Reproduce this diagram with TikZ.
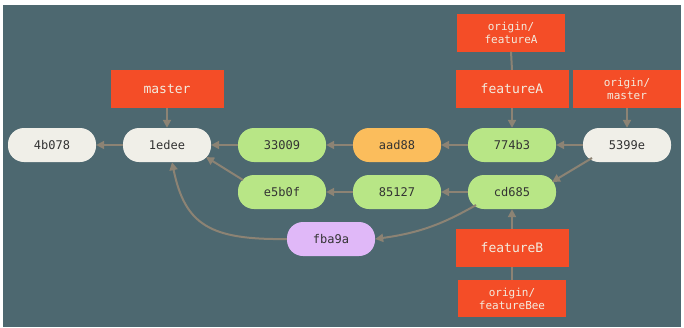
\documentclass[tikz,border=0pt]{standalone}
\usepackage{fontspec}
\newfontfamily\monof{DejaVu Sans Mono}
\usetikzlibrary{arrows.meta,calc}
\definecolor{bgc}{HTML}{4D6870}
\definecolor{redc}{HTML}{F44D27}
\definecolor{greyc}{HTML}{F0EFE8}
\definecolor{greenc}{HTML}{B8E686}
\definecolor{orangec}{HTML}{FBBD5C}
\definecolor{purplec}{HTML}{E0B8F8}
\definecolor{arrc}{HTML}{8C8374}
\definecolor{labtext}{HTML}{F3ECDF}
\definecolor{comtext}{HTML}{333333}
\tikzset{
  commit/.style={rectangle, rounded corners=16pt, minimum width=88pt, minimum height=34pt, inner sep=0pt, text=comtext, font=\monof\fontsize{12}{14}\selectfont},
  branch/.style={rectangle, fill=redc, minimum width=113pt, minimum height=38pt, inner sep=0pt, text=labtext, font=\monof\fontsize{13}{15}\selectfont},
  rbranch/.style={rectangle, fill=redc, minimum width=108pt, minimum height=38pt, inner sep=0pt, text=labtext, align=center, font=\monof\fontsize{11}{13}\selectfont},
  arr/.style={draw=arrc, line width=2pt, -{Triangle[length=8pt,width=8pt]}},
  link/.style={draw=arrc, line width=2pt}
}
\begin{document}
\begin{tikzpicture}[x=1pt,y=-1pt]
\fill[white] (0,0) rectangle (684,327);
\fill[bgc] (3,5) rectangle (681,327);
\useasboundingbox (0,0) rectangle (684,327);
% commits
\node[commit, fill=greyc] (c4b078) at (52,145) {4b078};
\node[commit, fill=greyc] (c1edee) at (167,145) {1edee};
\node[commit, fill=greenc] (c33009) at (282,145) {33009};
\node[commit, fill=orangec] (caad88) at (397,145) {aad88};
\node[commit, fill=greenc] (c774b3) at (512,145) {774b3};
\node[commit, fill=greyc] (c5399e) at (627,145) {5399e};
\node[commit, fill=greenc] (ce5b0f) at (282,192) {e5b0f};
\node[commit, fill=greenc] (c85127) at (397,192) {85127};
\node[commit, fill=greenc] (ccd685) at (512,192) {cd685};
\node[commit, fill=purplec] (cfba9a) at (331,239) {fba9a};
% branches
\node[branch] (master) at (167,89) {master};
\node[branch] (featureA) at (512,89) {featureA};
\node[rbranch] (ofeatureA) at (511,32.5) {origin/\\featureA};
\node[rbranch] (omaster) at (627,89) {origin/\\master};
\node[branch] (featureB) at (512,248) {featureB};
\node[rbranch, minimum height=37pt] (ofeatureBee) at (512,298.5) {origin/\\featureBee};
% connectors
\draw[arr] (c1edee.west) -- (c4b078.east);
\draw[arr] (c33009.west) -- (c1edee.east);
\draw[arr] (caad88.west) -- (c33009.east);
\draw[arr] (c774b3.west) -- (caad88.east);
\draw[arr] (c5399e.west) -- (c774b3.east);
\draw[arr] (c85127.west) -- (ce5b0f.east);
\draw[arr] (ccd685.west) -- (c85127.east);
\draw[arr] ($(ce5b0f.center)+(-39,-12)$) -- ($(c1edee.center)+(39,12)$);
\draw[arr] ($(c5399e.center)+(-35,13)$) -- ($(ccd685.center)+(40,-10)$);
\draw[arr] ($(ccd685.center)+(-36,13)$) to[out=-150, in=8] (cfba9a.east);
\draw[arr] (cfba9a.west) .. controls (210,240) and (185,225) .. ($(c1edee.south)+(5,0)$);
\draw[arr] (master.south) -- (c1edee.north);
\draw[arr] (featureA.south) -- (c774b3.north);
\draw[arr] (omaster.south) -- (c5399e.north);
\draw[arr] (featureB.north) -- (ccd685.south);
\draw[link] (ofeatureA.south) -- (featureA.north);
\draw[link] (ofeatureBee.north) -- (featureB.south);
\end{tikzpicture}
\end{document}
